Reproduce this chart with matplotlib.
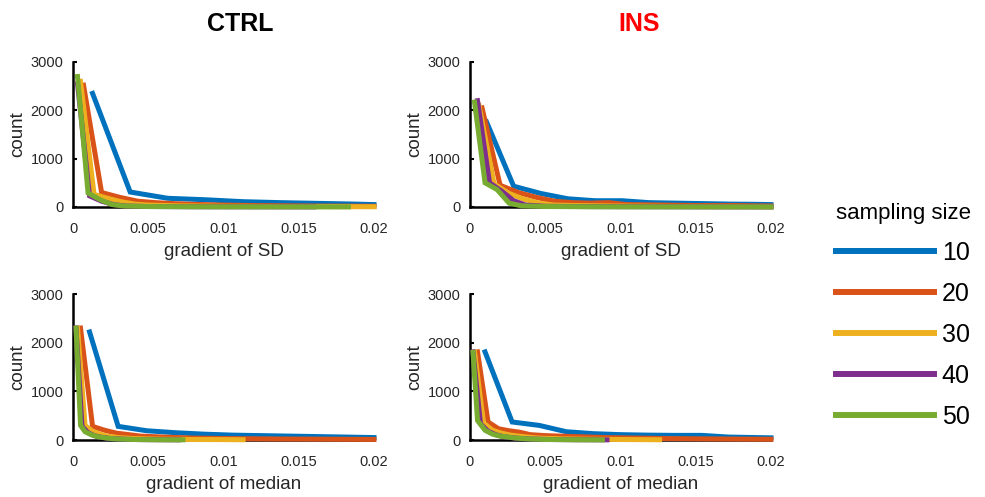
import matplotlib
matplotlib.use("Agg")
import matplotlib.pyplot as plt
from matplotlib.lines import Line2D

plt.rcParams['font.family'] = ['Liberation Sans', 'DejaVu Sans']

sizes = ['10', '20', '30', '40', '50']
colors = ['#0072BD', '#D95319', '#EDB120', '#7E2F8E', '#77AC30']

# CTRL, gradient of SD
ctrl_sd_x = [
    [0.0013, 0.0038, 0.0063, 0.0088, 0.0113, 0.0138, 0.0163, 0.0188, 0.02],
    [0.0007, 0.0019, 0.0031, 0.0043, 0.0055, 0.0067, 0.008, 0.01, 0.012, 0.014, 0.016, 0.018, 0.02],
    [0.0005, 0.0014, 0.0023, 0.0032, 0.0041, 0.005, 0.007, 0.01, 0.013, 0.016, 0.02],
    [0.0003, 0.0011, 0.0019, 0.0027, 0.0035, 0.005, 0.008, 0.012, 0.016],
    [0.0003, 0.001, 0.0018, 0.0026, 0.0034, 0.005, 0.008, 0.012, 0.0183],
]
ctrl_sd_y = [
    [2350, 310, 180, 150, 110, 90, 75, 60, 50],
    [2520, 300, 200, 120, 90, 70, 55, 40, 30, 25, 20, 18, 15],
    [2600, 260, 180, 110, 60, 40, 25, 15, 10, 8, 5],
    [2550, 230, 120, 50, 20, 10, 5, 3, 2],
    [2700, 290, 150, 50, 20, 10, 5, 3, 2],
]

# INS, gradient of SD
ins_sd_x = [
    [0.0011, 0.0029, 0.0047, 0.0065, 0.0083, 0.0101, 0.0119, 0.0137, 0.0155, 0.0173, 0.0191, 0.02],
    [0.0008, 0.002, 0.0032, 0.0044, 0.0056, 0.0068, 0.008, 0.0092, 0.0104, 0.0128, 0.015, 0.0176, 0.02],
    [0.0006, 0.0016, 0.0026, 0.0036, 0.0046, 0.0056, 0.007, 0.01, 0.014, 0.02],
    [0.0005, 0.0013, 0.0021, 0.0029, 0.0037, 0.005, 0.008, 0.012, 0.016, 0.02],
    [0.0003, 0.001, 0.0018, 0.0026, 0.0034, 0.005, 0.008, 0.012, 0.016, 0.02],
]
ins_sd_y = [
    [1760, 430, 280, 170, 130, 130, 90, 80, 70, 60, 55, 50],
    [2050, 450, 300, 200, 120, 90, 80, 90, 50, 40, 30, 30, 20],
    [2100, 480, 280, 160, 80, 40, 30, 20, 10, 5],
    [2200, 500, 330, 130, 40, 15, 8, 5, 3, 2],
    [2170, 500, 360, 80, 25, 10, 5, 3, 2, 1],
]

# CTRL, gradient of median
ctrl_med_x = [
    [0.0011, 0.003, 0.0049, 0.0068, 0.0087, 0.0106, 0.0125, 0.0144, 0.0163, 0.0182, 0.02],
    [0.0005, 0.0013, 0.0021, 0.0029, 0.0037, 0.0045, 0.006, 0.008, 0.01, 0.012, 0.014, 0.016, 0.018, 0.02],
    [0.0003, 0.0008, 0.0013, 0.0018, 0.0023, 0.003, 0.004, 0.006, 0.008, 0.01, 0.0113],
    [0.0002, 0.0006, 0.001, 0.0014, 0.0018, 0.0025, 0.0035, 0.0045, 0.0058, 0.007],
    [0.0002, 0.0005, 0.0008, 0.0012, 0.0016, 0.0022, 0.003, 0.004, 0.0055, 0.0073],
]
ctrl_med_y = [
    [2220, 280, 190, 150, 120, 100, 90, 80, 70, 60, 50],
    [2300, 280, 200, 140, 110, 80, 60, 40, 30, 25, 20, 18, 15, 12],
    [2300, 300, 180, 120, 80, 50, 30, 15, 10, 8, 5],
    [2300, 280, 150, 90, 60, 30, 15, 8, 5, 3],
    [2300, 300, 170, 110, 70, 40, 20, 10, 5, 3],
]

# INS, gradient of median
ins_med_x = [
    [0.001, 0.0028, 0.0046, 0.0064, 0.0082, 0.01, 0.0118, 0.0136, 0.0154, 0.0172, 0.019, 0.02],
    [0.0005, 0.0012, 0.0019, 0.0026, 0.0033, 0.004, 0.005, 0.007, 0.009, 0.011, 0.013, 0.015, 0.017, 0.02],
    [0.0003, 0.0009, 0.0015, 0.0021, 0.0027, 0.0035, 0.0045, 0.006, 0.008, 0.01, 0.0126],
    [0.0002, 0.0007, 0.0012, 0.0017, 0.0022, 0.003, 0.004, 0.0055, 0.007, 0.0091],
    [0.0002, 0.0005, 0.001, 0.0015, 0.002, 0.003, 0.004, 0.005, 0.007, 0.0088],
]
ins_med_y = [
    [1810, 370, 300, 170, 130, 110, 100, 95, 95, 60, 50, 45],
    [1810, 370, 230, 190, 160, 110, 90, 70, 50, 40, 30, 25, 20, 15],
    [1810, 350, 200, 140, 100, 70, 40, 25, 15, 10, 5],
    [1810, 330, 180, 110, 70, 40, 20, 10, 5, 3],
    [1800, 400, 200, 120, 80, 40, 20, 10, 5, 3],
]

xticks = [0, 0.005, 0.01, 0.015, 0.02]
xticklabels = ['0', '0.005', '0.01', '0.015', '0.02']
yticks = [0, 1000, 2000, 3000]

grey = '#262626'
fig = plt.figure(figsize=(9.85, 4.97), dpi=100)

W = 301 / 985.
panels = [
    (73 / 985., 1 - 207 / 497., 145 / 497., ctrl_sd_x, ctrl_sd_y, 'gradient of SD'),
    (470 / 985., 1 - 207 / 497., 145 / 497., ins_sd_x, ins_sd_y, 'gradient of SD'),
    (73 / 985., 1 - 440 / 497., 146 / 497., ctrl_med_x, ctrl_med_y, 'gradient of median'),
    (470 / 985., 1 - 440 / 497., 146 / 497., ins_med_x, ins_med_y, 'gradient of median'),
]

for left, bottom, h, xs, ys, xlab in panels:
    ax = fig.add_axes([left, bottom, W, h])
    for i in range(5):
        ax.plot(xs[i], ys[i], color=colors[i], lw=3.6, zorder=3,
                clip_on=False, solid_joinstyle='miter')
    ax.set_xlim(0, 0.02)
    ax.set_ylim(0, 3000)
    ax.set_xticks(xticks)
    ax.set_xticklabels(xticklabels)
    ax.set_yticks(yticks)
    for s in ['top', 'right']:
        ax.spines[s].set_visible(False)
    for s in ['left', 'bottom']:
        ax.spines[s].set_linewidth(1.8)
        ax.spines[s].set_color('black')
    ax.tick_params(direction='in', length=3, width=1.5, labelsize=10.5,
                   labelcolor=grey, color='black')
    ax.tick_params(axis='x', pad=11, length=0)
    ax.tick_params(axis='y', pad=7)
    ax.set_xlabel(xlab, fontsize=13.5, color=grey, labelpad=5)
    ax.set_ylabel('count', fontsize=13.5, color=grey, labelpad=3)

fig.text(240 / 985., 1 - 24 / 497., 'CTRL', fontsize=18, fontweight='bold',
         ha='center', va='center', color='black')
fig.text(639 / 985., 1 - 24 / 497., 'INS', fontsize=18, fontweight='bold',
         ha='center', va='center', color='red')

handles = [Line2D([], [], color=c, lw=4.3) for c in colors]
leg = fig.legend(handles, sizes, title='sampling size', loc='upper left',
                 bbox_to_anchor=(823 / 985., 1 - 190 / 497.), frameon=False,
                 fontsize=18, title_fontsize=16, handlelength=3.95,
                 handletextpad=0.3, labelspacing=0.68, borderpad=0)
leg._legend_box.align = 'left'

fig.savefig('out.png', dpi=100)
